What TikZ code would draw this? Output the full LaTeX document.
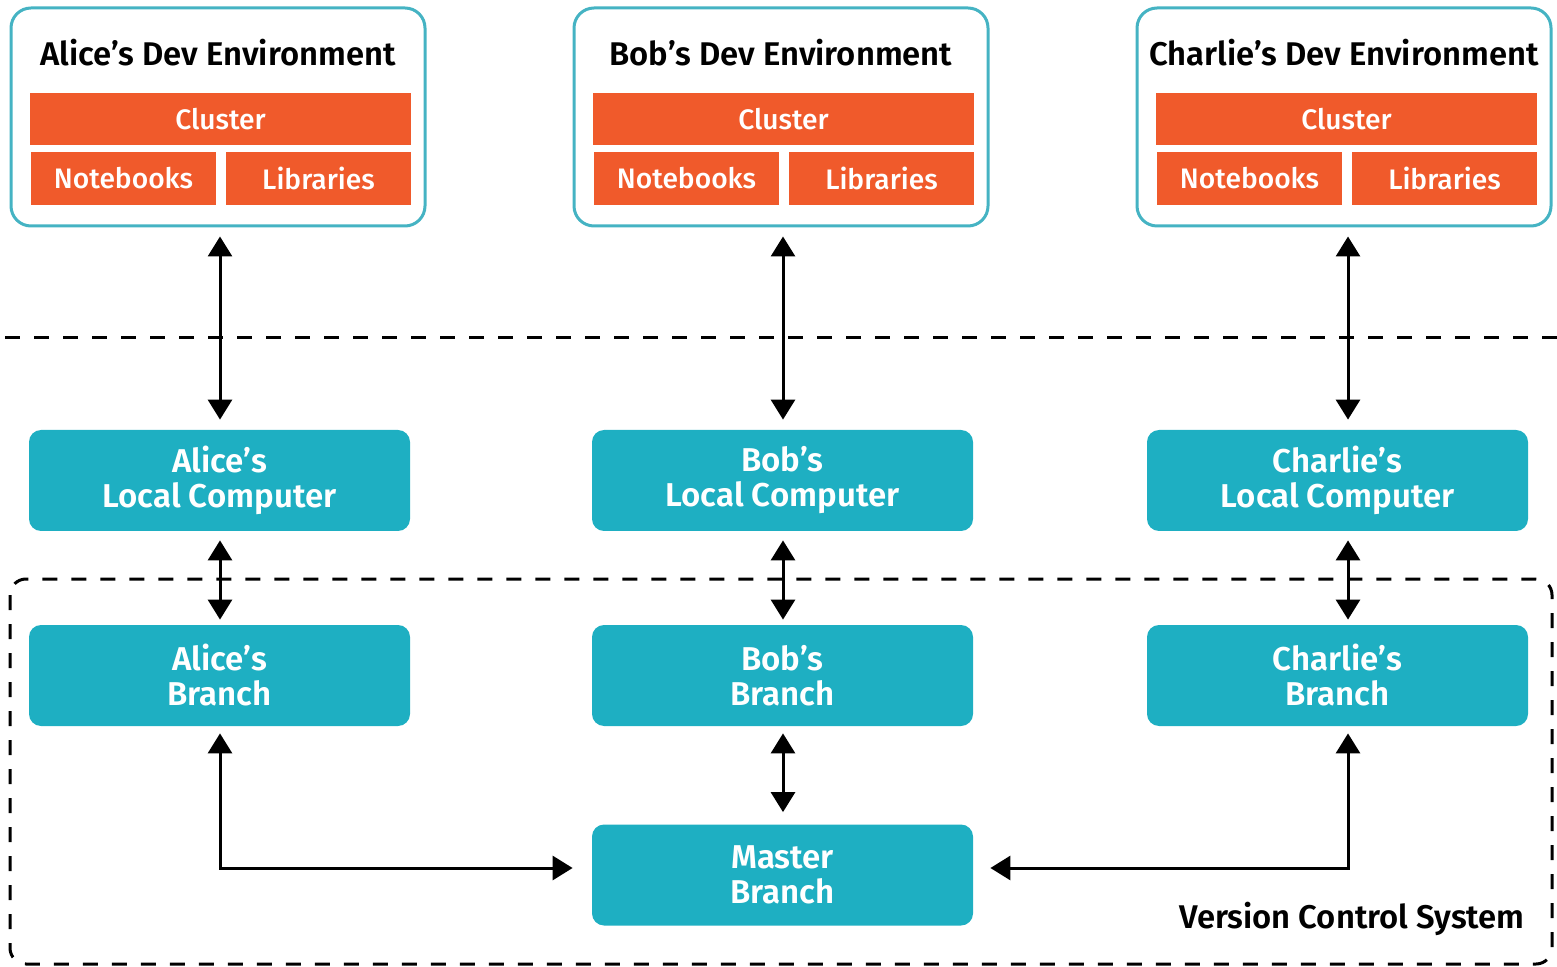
\documentclass[tikz,border=0pt]{standalone}
\usepackage{fontspec}
\setmainfont{Fira Sans}[UprightFont=* Medium, BoldFont=* SemiBold]
\usetikzlibrary{arrows.meta}
\definecolor{envteal}{HTML}{45B3C3}
\definecolor{boxteal}{HTML}{1EAFC2}
\definecolor{clusterorange}{HTML}{F05A2B}
\begin{document}
\begin{tikzpicture}[x=0.5pt,y=-0.5pt,
  envbox/.style={draw=envteal, line width=1.5pt, rounded corners=10pt,
    minimum width=207pt, minimum height=109pt, inner sep=0pt},
  envtitle/.style={font=\fontsize{16.4}{19}\selectfont\bfseries, inner sep=0pt},
  orangebar/.style={fill=clusterorange, text=white, inner sep=0pt,
    font=\fontsize{14.1}{16}\selectfont},
  tealbox/.style={fill=boxteal, text=white, rounded corners=6pt, inner sep=0pt,
    minimum width=190.5pt, minimum height=50.5pt, align=center,
    font=\fontsize{16.5}{17.5}\selectfont\bfseries},
  tip/.style={Triangle[width=12pt,length=10pt]},
  dbl/.style={line width=1.5pt, {Triangle[width=12pt,length=10pt]}-{Triangle[width=12pt,length=10pt]}},
  boundary/.style={line width=1.5pt, dash pattern=on 7.5pt off 7pt}
]
\useasboundingbox (0,0) rectangle (1557,967);

% developer columns: name, x offset, local/branch box centre, arrow column
\foreach \who/\name/\dx/\bx/\ax in {a/Alice/0/219.5/220, b/Bob/563/782.5/783, c/Charlie/1126/1337.5/1348}{
  % dev environment
  \node[envbox] (\who env) at (218+\dx,117) {};
  \node[envtitle] (\who title) at (218+\dx,53) {\name’s Dev Environment};
  \node[orangebar, minimum width=190.5pt, minimum height=26pt] (\who cluster) at (220.5+\dx,119) {Cluster};
  \node[orangebar, minimum width=92.5pt, minimum height=26.5pt] (\who nb) at (123.5+\dx,178.5) {Notebooks};
  \node[orangebar, minimum width=92.5pt, minimum height=26.5pt] (\who lib) at (318.5+\dx,178.5) {Libraries};
  % local computer and branch
  \node[tealbox] (\who local) at (\bx,480.5) {\name’s\\Local Computer};
  \node[tealbox] (\who branch) at (\bx,675.5) {\name’s\\Branch};
  \coordinate (\who col) at (\ax,0);
  \draw[dbl, shorten <=4.5pt, shorten >=5pt] (\who env.south -| \who col) -- (\who local.north -| \who col);
  \draw[dbl, shorten <=4.5pt, shorten >=2.5pt] (\who local.south -| \who col) -- (\who branch.north -| \who col);
}

\node[tealbox] (master) at (782.5,875) {Master\\Branch};

% separator between environments and local machines
\coordinate (sepL) at (5,338);
\coordinate (sepR) at (1557,338);
\draw[boundary] (sepL) -- (sepR);

% version control system boundary
\draw[boundary, rounded corners=8pt] (10,579) rectangle (1552,964);
\node[font=\fontsize{16.4}{19}\selectfont\bfseries, anchor=east, inner sep=0pt] (vcs) at (1525,919) {Version Control System};

% merges into master
\draw[dbl, shorten <=3.5pt, shorten >=6pt] (bbranch.south -| bcol) -- (master.north -| bcol);
\draw[dbl, shorten <=3.5pt, shorten >=9.5pt] (abranch.south -| acol) |- ([yshift=3.5pt]master.west);
\draw[dbl, shorten <=3.5pt, shorten >=8.5pt] (cbranch.south -| ccol) |- ([yshift=3.5pt]master.east);
\end{tikzpicture}
\end{document}
